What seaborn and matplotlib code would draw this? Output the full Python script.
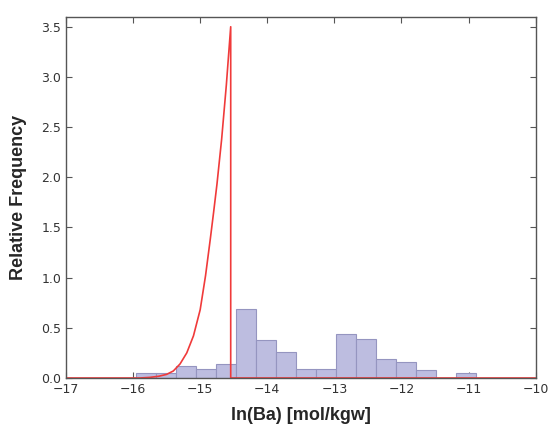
import matplotlib

matplotlib.use("Agg")

import matplotlib.pyplot as plt
import numpy as np
import pandas as pd
import seaborn as sns

# histogram of ln(Ba), 17 bins of equal width
BIN_START = -15.96
BIN_WIDTH = 0.298
BAR_HEIGHTS = [0.05, 0.05, 0.116, 0.086, 0.136, 0.689, 0.377, 0.255, 0.086,
               0.086, 0.437, 0.39, 0.189, 0.156, 0.076, 0.0, 0.05]

# fitted density curve
CURVE_X = [-17.0, -15.9, -15.75, -15.62, -15.5, -15.4, -15.3, -15.2, -15.1,
           -15.0, -14.92, -14.85, -14.8, -14.75, -14.68, -14.61, -14.545,
           -14.545, -10.0]
CURVE_Y = [0.0, 0.0, 0.006, 0.017, 0.036, 0.07, 0.14, 0.25, 0.42,
           0.68, 1.02, 1.38, 1.65, 1.93, 2.38, 2.92, 3.5,
           0.0, 0.0]

BAR_FACE = "#bdbde0"
BAR_EDGE = "#9595c0"
CURVE_COLOR = "#f03a3a"

sns.set_style("ticks")
plt.rcParams.update({
    "xtick.direction": "in",
    "ytick.direction": "in",
    "xtick.top": True,
    "ytick.right": True,
    "axes.edgecolor": "#555555",
    "xtick.color": "#555555",
    "ytick.color": "#555555",
    "xtick.labelcolor": "#333333",
    "ytick.labelcolor": "#333333",
})

n_bins = len(BAR_HEIGHTS)
hist_df = pd.DataFrame({
    "center": BIN_START + BIN_WIDTH * (np.arange(n_bins) + 0.5),
    "height": BAR_HEIGHTS,
})

fig = plt.figure(figsize=(5.48, 4.25), dpi=100)
ax = fig.add_axes([0.1204, 0.1106, 0.8571, 0.8487])

sns.histplot(data=hist_df, x="center", weights="height", binwidth=BIN_WIDTH,
             binrange=(BIN_START, BIN_START + n_bins * BIN_WIDTH), ax=ax,
             color=BAR_FACE, edgecolor=BAR_EDGE, linewidth=0.8, alpha=1.0)
sns.lineplot(x=CURVE_X, y=CURVE_Y, ax=ax, color=CURVE_COLOR, linewidth=1.2,
             sort=False, estimator=None)

ax.set_xlim(-17, -10)
ax.set_ylim(0, 3.594)
ax.set_xticks(np.arange(-17, -9, 1))
ax.set_yticks(np.arange(0, 3.51, 0.5))
ax.tick_params(labelsize=9, length=4, width=0.8)
for side in ax.spines.values():
    side.set_linewidth(1.0)

label_font = {"family": "Liberation Sans", "weight": "bold", "size": 13}
ax.set_xlabel("ln(Ba) [mol/kgw]", fontdict=label_font, labelpad=8)
ax.set_ylabel("Relative Frequency", fontdict=label_font, labelpad=10)

fig.savefig("out.png", dpi=100)
